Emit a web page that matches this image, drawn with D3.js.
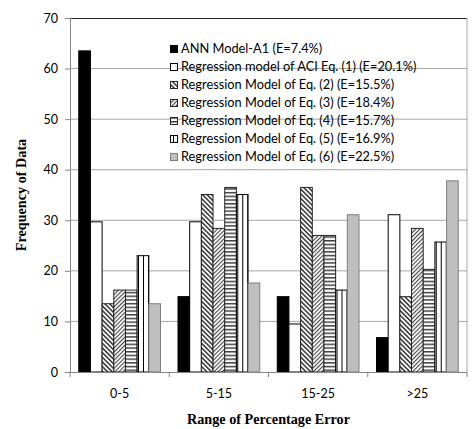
<!DOCTYPE html>
<html lang="en">
<head>
  <title>Frequency of data by range of percentage error</title>
  <meta http-equiv="content-type" content="text/html; charset=utf-8" />
  <style>
    body {
      margin: 0;
      background: #fff;
    }
    .tick text {
      font-family: Lato, "Liberation Sans", sans-serif;
      font-size: 12.5px;
      fill: #000;
    }
    .legend text {
      font-family: Lato, "Liberation Sans", sans-serif;
      font-size: 12.8px;
      fill: #000;
    }
    .title {
      font-family: "Liberation Serif", "Times New Roman", serif;
      font-weight: 700;
      font-size: 14.2px;
      fill: #000;
    }
  </style>
</head>
<body>
  <div id="graphic"></div>

  <script src="https://cdnjs.cloudflare.com/ajax/libs/d3/7.8.5/d3.min.js"></script>
  <script>
    // data (% of data in each error range)
    var categories = ["0-5", "5-15", "15-25", ">25"];
    var seriesNames = [
      "ANN Model-A1 (E=7.4%)",
      "Regression model of ACI Eq. (1) (E=20.1%)",
      "Regression Model of Eq. (2) (E=15.5%)",
      "Regression Model of Eq. (3) (E=18.4%)",
      "Regression Model of Eq. (4) (E=15.7%)",
      "Regression Model of Eq. (5) (E=16.9%)",
      "Regression Model of Eq. (6) (E=22.5%)"
    ];
    var annValues = [63.5, 14.9, 14.9, 6.8];
    var aciValues = [29.7, 29.7, 9.5, 31.1];
    var eq2Values = [13.5, 35.1, 36.5, 14.9];
    var eq3Values = [16.2, 28.4, 27.0, 28.4];
    var eq4Values = [16.2, 36.5, 27.0, 20.3];
    var eq5Values = [23.0, 35.1, 16.2, 25.7];
    var eq6Values = [13.5, 17.6, 31.1, 37.8];
    var yTicks = [0, 10, 20, 30, 40, 50, 60, 70];

    var allValues = [annValues, aciValues, eq2Values, eq3Values, eq4Values, eq5Values, eq6Values];

    var width = 472, height = 429;
    var margin = {top: 18, right: 5, bottom: 57, left: 70};
    var chart_width = width - margin.left - margin.right;
    var chart_height = height - margin.top - margin.bottom;

    // fill / outline for each series
    var fills = ["#000", "#fff", "url(#hatch2)", "url(#hatch3)", "url(#horiz)", "url(#vert)", "#bfbfbf"];
    var strokes = ["#000", "#000", "#262626", "#262626", "#262626", "#000", "#7f7f7f"];

    var svg = d3.select("#graphic")
      .append("svg")
      .attr("width", width)
      .attr("height", height);

    var defs = svg.append("defs");

    // wide downward diagonal
    var p2 = defs.append("pattern")
      .attr("id", "hatch2")
      .attr("patternUnits", "userSpaceOnUse")
      .attr("width", 3.3).attr("height", 3.3)
      .attr("patternTransform", "rotate(-45)");
    p2.append("rect").attr("width", 3.3).attr("height", 3.3).attr("fill", "#fff");
    p2.append("rect").attr("width", 1.5).attr("height", 3.3).attr("fill", "#333");

    // light upward diagonal
    var p3 = defs.append("pattern")
      .attr("id", "hatch3")
      .attr("patternUnits", "userSpaceOnUse")
      .attr("width", 2.9).attr("height", 2.9)
      .attr("patternTransform", "rotate(45)");
    p3.append("rect").attr("width", 2.9).attr("height", 2.9).attr("fill", "#fff");
    p3.append("rect").attr("width", 1.1).attr("height", 2.9).attr("fill", "#444");

    // horizontal lines
    var p4 = defs.append("pattern")
      .attr("id", "horiz")
      .attr("patternUnits", "userSpaceOnUse")
      .attr("width", 4).attr("height", 3.7);
    p4.append("rect").attr("width", 4).attr("height", 3.7).attr("fill", "#fff");
    p4.append("rect").attr("width", 4).attr("height", 1.5).attr("fill", "#404040");

    // vertical lines
    var p5 = defs.append("pattern")
      .attr("id", "vert")
      .attr("patternUnits", "userSpaceOnUse")
      .attr("width", 5).attr("height", 4)
      .attr("x", 1);
    p5.append("rect").attr("width", 5).attr("height", 4).attr("fill", "#fff");
    p5.append("rect").attr("x", 2).attr("width", 1).attr("height", 4).attr("fill", "#000");

    var g = svg.append("g")
      .attr("transform", "translate(" + margin.left + "," + margin.top + ")");

    var x0 = d3.scaleBand()
      .domain(categories)
      .range([0, chart_width])
      .paddingInner(0)
      .paddingOuter(0);

    // excel style gap width 150%
    var x1 = d3.scaleBand()
      .domain(d3.range(seriesNames.length))
      .range([0, x0.bandwidth()])
      .paddingInner(0)
      .paddingOuter(0.75);

    var y = d3.scaleLinear()
      .domain([0, 70])
      .range([chart_height, 0]);

    // gridlines
    g.append("g")
      .selectAll("line")
      .data(yTicks.slice(1, -1))
      .enter().append("line")
      .attr("x1", 0)
      .attr("x2", chart_width)
      .attr("y1", function(d) { return y(d); })
      .attr("y2", function(d) { return y(d); })
      .attr("stroke", "#a6a6a6")
      .attr("stroke-width", 1);

    // plot frame top / right
    g.append("line")
      .attr("x1", 0).attr("x2", chart_width)
      .attr("y1", 0.5).attr("y2", 0.5)
      .attr("stroke", "#262626");
    g.append("line")
      .attr("x1", chart_width).attr("x2", chart_width)
      .attr("y1", 0).attr("y2", chart_height)
      .attr("stroke", "#a6a6a6");

    // bars
    var groups = g.selectAll("g.group")
      .data(categories)
      .enter().append("g")
      .attr("class", "group")
      .attr("transform", function(d) { return "translate(" + x0(d) + ",0)"; });

    groups.selectAll("rect")
      .data(function(d, ci) {
        return allValues.map(function(vals, si) { return {s: si, value: vals[ci]}; });
      })
      .enter().append("rect")
      .attr("x", function(d) { return x1(d.s); })
      .attr("y", function(d) { return y(d.value); })
      .attr("width", x1.bandwidth())
      .attr("height", function(d) { return chart_height - y(d.value); })
      .attr("fill", function(d) { return fills[d.s]; })
      .attr("stroke", function(d) { return strokes[d.s]; })
      .attr("stroke-width", 1);

    // axes
    var yAxis = d3.axisLeft(y)
      .tickValues(yTicks)
      .tickSize(5)
      .tickPadding(7);

    var xAxis = d3.axisBottom(x0)
      .tickSize(0)
      .tickPadding(17);

    var ya = g.append("g").attr("class", "y axis").call(yAxis);
    ya.select(".domain").attr("stroke", "#868686").attr("d", "M0.5," + chart_height + "V0");
    ya.selectAll(".tick line").attr("stroke", "#868686");

    var xa = g.append("g")
      .attr("class", "x axis")
      .attr("transform", "translate(0," + chart_height + ")")
      .call(xAxis);
    xa.select(".domain").attr("stroke", "#868686").attr("d", "M-5,0.5H" + chart_width);

    // ticks between categories
    xa.selectAll("line.sep")
      .data(categories.concat(["end"]))
      .enter().append("line")
      .attr("class", "sep")
      .attr("x1", function(d, i) { return i * x0.step(); })
      .attr("x2", function(d, i) { return i * x0.step(); })
      .attr("y1", 0)
      .attr("y2", 5)
      .attr("stroke", "#868686");

    // axis titles
    svg.append("text")
      .attr("class", "title")
      .attr("x", margin.left + chart_width / 2)
      .attr("y", 424)
      .attr("text-anchor", "middle")
      .text("Range of Percentage Error");

    svg.append("text")
      .attr("class", "title")
      .attr("transform", "translate(26," + (margin.top + chart_height / 2) + ") rotate(-90)")
      .attr("text-anchor", "middle")
      .text("Frequency of Data");

    // legend
    var legend = svg.append("g")
      .attr("class", "legend")
      .attr("transform", "translate(170,49)");

    var items = legend.selectAll("g")
      .data(seriesNames)
      .enter().append("g")
      .attr("transform", function(d, i) { return "translate(0," + (i * 18) + ")"; });

    items.append("rect")
      .attr("x", 0.5)
      .attr("y", -3.5)
      .attr("width", 7)
      .attr("height", 7)
      .attr("fill", function(d, i) { return fills[i]; })
      .attr("stroke", function(d, i) { return strokes[i]; });

    items.append("text")
      .attr("x", 11)
      .attr("dy", "0.35em")
      .text(function(d) { return d; });
  </script>
</body>
</html>
